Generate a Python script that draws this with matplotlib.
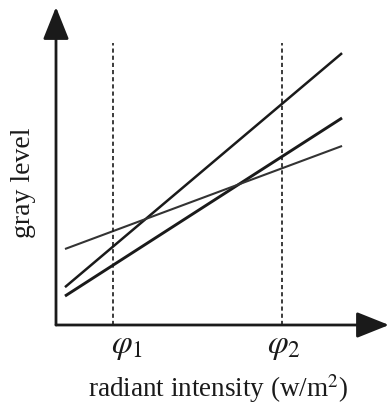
import matplotlib.pyplot as plt

plt.rcParams['font.family'] = 'Liberation Serif'
plt.rcParams['mathtext.fontset'] = 'stix'

W, H = 389, 407

# line endpoints (axis units 0..10)
x_ends = [0.27, 8.59]
steep = [1.19, 8.55]
medium = [0.91, 6.51]
shallow = [2.39, 5.63]

phi_x = [1.71, 6.79]
phi_top = 8.87
phi_labels = [r'$\varphi_1$', r'$\varphi_2$']

fig = plt.figure(figsize=(W / 100, H / 100), dpi=100)
ax = fig.add_axes([56 / W, 1 - 325 / H, (W - 56) / W, (325 - 7) / H])
ax.set_xlim(0, 10)
ax.set_ylim(0, 10)
ax.axis('off')

col = '#1a1a1a'
ax.plot(x_ends, steep, color=col, lw=1.8, solid_capstyle='butt')
ax.plot(x_ends, medium, color=col, lw=2.1, solid_capstyle='butt')
ax.plot(x_ends, shallow, color='#333333', lw=1.5, solid_capstyle='butt')

for px in phi_x:
    ax.plot([px, px], [0, phi_top], color=col, lw=1.2, ls=(0, (2.5, 1.8)))

# axes with arrows
arrow = dict(arrowstyle='-|>,head_length=2.0,head_width=0.8', color=col, lw=2,
             shrinkA=0, shrinkB=0)
ax.annotate('', xy=(0, 10), xytext=(0, 0), arrowprops=arrow, annotation_clip=False)
ax.annotate('', xy=(10, 0), xytext=(0, 0), arrowprops=arrow, annotation_clip=False)

for px, lab, cx in zip(phi_x, phi_labels, [127, 284]):
    fig.text(cx / W, 1 - 347 / H, lab, fontsize=24, ha='center', va='center', color=col)

fig.text(218 / W, 1 - 389 / H, 'radiant intensity (w/m$^2$)', fontsize=19.5,
         ha='center', va='center', color=col)
fig.text(23 / W, 1 - 183 / H, 'gray level', fontsize=20, rotation=90,
         ha='center', va='center', color=col)

fig.savefig('out.png', dpi=100)
